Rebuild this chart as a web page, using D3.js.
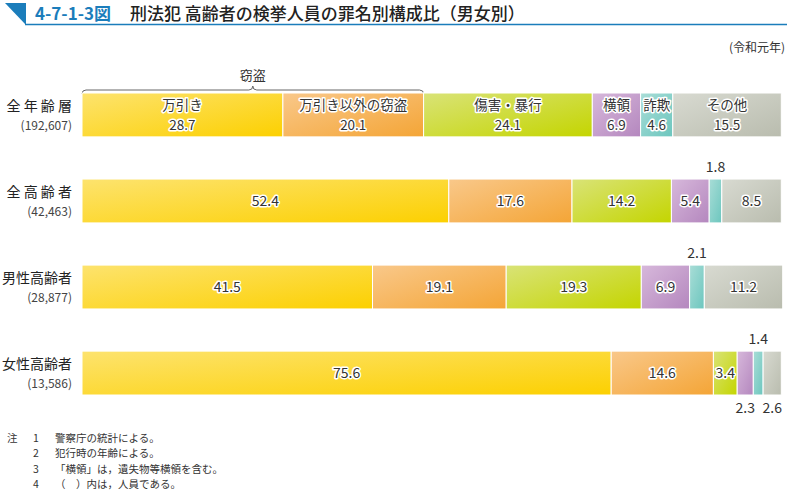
<!DOCTYPE html>
<html><head><meta charset="utf-8">
<script src="https://cdn.jsdelivr.net/npm/d3@7/dist/d3.min.js"></script>
<style>
body{margin:0;background:#fff;}
svg{font-family:"Noto Sans CJK JP","Noto Sans",sans-serif;}
</style></head>
<body><svg id="c" width="792" height="503"></svg>
<script>
const categories = ["万引き","万引き以外の窃盗","傷害・暴行","横領","詐欺","その他"];
const groups = ["全年齢層","全高齢者","男性高齢者","女性高齢者"];
const groupLabels = ["全 年 齢 層","全 高 齢 者","男性高齢者","女性高齢者"];
const groupCounts = ["(192,607)","(42,463)","(28,877)","(13,586)"];
const allAges   = [28.7, 20.1, 24.1, 6.9, 4.6, 15.5];
const allElder  = [52.4, 17.6, 14.2, 5.4, 1.8, 8.5];
const maleElder = [41.5, 19.1, 19.3, 6.9, 2.1, 11.2];
const femElder  = [75.6, 14.6, 3.4, 2.3, 1.4, 2.6];
const seriesValues = [allAges, allElder, maleElder, femElder];
const notes = ["警察庁の統計による。","犯行時の年齢による。","「横領」は，遺失物等横領を含む。","（　）内は，人員である。"];

const gradStops = [
  ["#fde36e","#fcd000"],
  ["#f9c88a","#f4a536"],
  ["#d9e377","#c4d500"],
  ["#d7b8db","#b487be"],
  ["#a9ddd7","#6cc6be"],
  ["#d8dad1","#b9bcae"]
];

const svg = d3.select("#c");
const defs = svg.append("defs");
gradStops.forEach((s,i)=>{
  const g = defs.append("linearGradient").attr("id","g"+i)
    .attr("x1","0").attr("y1","0").attr("x2","1").attr("y2","1");
  g.append("stop").attr("offset","0").attr("stop-color",s[0]);
  g.append("stop").attr("offset","1").attr("stop-color",s[1]);
});

// Title
svg.append("path").attr("d","M5,3 L26,3 L26,25 Z").attr("fill","#1b7dbb");
svg.append("line").attr("x1",25).attr("x2",787).attr("y1",24.5).attr("y2",24.5)
  .attr("stroke","#1b7dbb").attr("stroke-width",1.5);
svg.append("text").attr("x",35).attr("y",20).attr("font-size",17).attr("font-weight","bold")
  .attr("fill","#1b7dbb").text("4-7-1-3図");
svg.append("text").attr("x",130).attr("y",20).attr("font-size",17).attr("font-weight","500")
  .attr("fill","#222").text("刑法犯 高齢者の検挙人員の罪名別構成比（男女別）");
svg.append("text").attr("x",785).attr("y",52).attr("text-anchor","end").attr("font-size",12)
  .attr("fill","#333").text("(令和元年)");

const x = d3.scaleLinear().domain([0,100]).range([82,782]);
const y = d3.scaleBand().domain(groups).range([93,395]).paddingInner(0.49).paddingOuter(0);

// Bracket for 窃盗
const bx0 = x(0), bx1 = x(allAges[0]+allAges[1]), bm = (bx0+bx1)/2, by = y(groups[0]);
svg.append("path")
  .attr("d",`M${bx0},${by+1} Q${bx0},${by-3} ${bx0+4},${by-3} L${bm-4},${by-3} Q${bm},${by-3} ${bm},${by-7} Q${bm},${by-3} ${bm+4},${by-3} L${bx1-4},${by-3} Q${bx1},${by-3} ${bx1},${by+1}`)
  .attr("fill","none").attr("stroke","#666").attr("stroke-width",1);
svg.append("text").attr("x",bm).attr("y",by-13).attr("text-anchor","middle").attr("font-size",13)
  .attr("fill","#333").text("窃盗");

const outside = {"1-4":"above","2-4":"above","3-4":"above","3-3":"below","3-5":"below"};

groups.forEach((gname,gi)=>{
  const vals = seriesValues[gi];
  let cum = 0;
  const segs = vals.map((v,ci)=>{const s={v,ci,x0:cum,x1:cum+v}; cum+=v; return s;});
  const gy = y(gname), h = y.bandwidth();
  const row = svg.append("g");
  row.selectAll("rect").data(segs).join("rect")
    .attr("x",d=>x(d.x0)).attr("width",d=>x(d.x1)-x(d.x0))
    .attr("y",gy).attr("height",h)
    .attr("fill",d=>`url(#g${d.ci})`)
    .attr("stroke","#fff").attr("stroke-width",1);
  const lab = svg.append("text").attr("text-anchor","end").attr("fill","#222");
  lab.append("tspan").attr("x",72).attr("y",gy+h/2-4).attr("font-size",14).text(groupLabels[gi]);
  lab.append("tspan").attr("x",72).attr("y",gy+h/2+15).attr("font-size",12).attr("fill","#444").text(groupCounts[gi]);
  segs.forEach(d=>{
    const cx = (x(d.x0)+x(d.x1))/2;
    const pos = outside[gi+"-"+d.ci];
    if(pos==="above"){
      svg.append("text").attr("x",cx).attr("y",gy-7).attr("text-anchor","middle")
        .attr("font-size",14).attr("fill","#333").text(d.v.toFixed(1));
    } else if(pos==="below"){
      svg.append("text").attr("x",cx).attr("y",gy+h+18).attr("text-anchor","middle")
        .attr("font-size",14).attr("fill","#333").text(d.v.toFixed(1));
    } else {
      const t = svg.append("text").attr("font-size",gi===0?13.5:14).attr("text-anchor","middle")
        .attr("fill","#333").attr("stroke","#fff").attr("stroke-width",3)
        .attr("stroke-linejoin","round").attr("paint-order","stroke");
      if(gi===0){
        t.append("tspan").attr("x",cx).attr("y",gy+h/2-4.5).text(categories[d.ci]);
        t.append("tspan").attr("x",cx).attr("y",gy+h/2+15.2).text(d.v.toFixed(1));
      } else {
        t.attr("x",cx).attr("y",gy+h/2+5).text(d.v.toFixed(1));
      }
    }
  });
});

// Notes
const nt = svg.append("g").attr("font-size",10.5).attr("fill","#333");
notes.forEach((n,i)=>{
  const t = nt.append("text").attr("y",442+i*15.3);
  t.append("tspan").attr("x",7).text(i===0?"注":"");
  t.append("tspan").attr("x",33).text(String(i+1));
  t.append("tspan").attr("x",55).text(n);
});
</script></body></html>
